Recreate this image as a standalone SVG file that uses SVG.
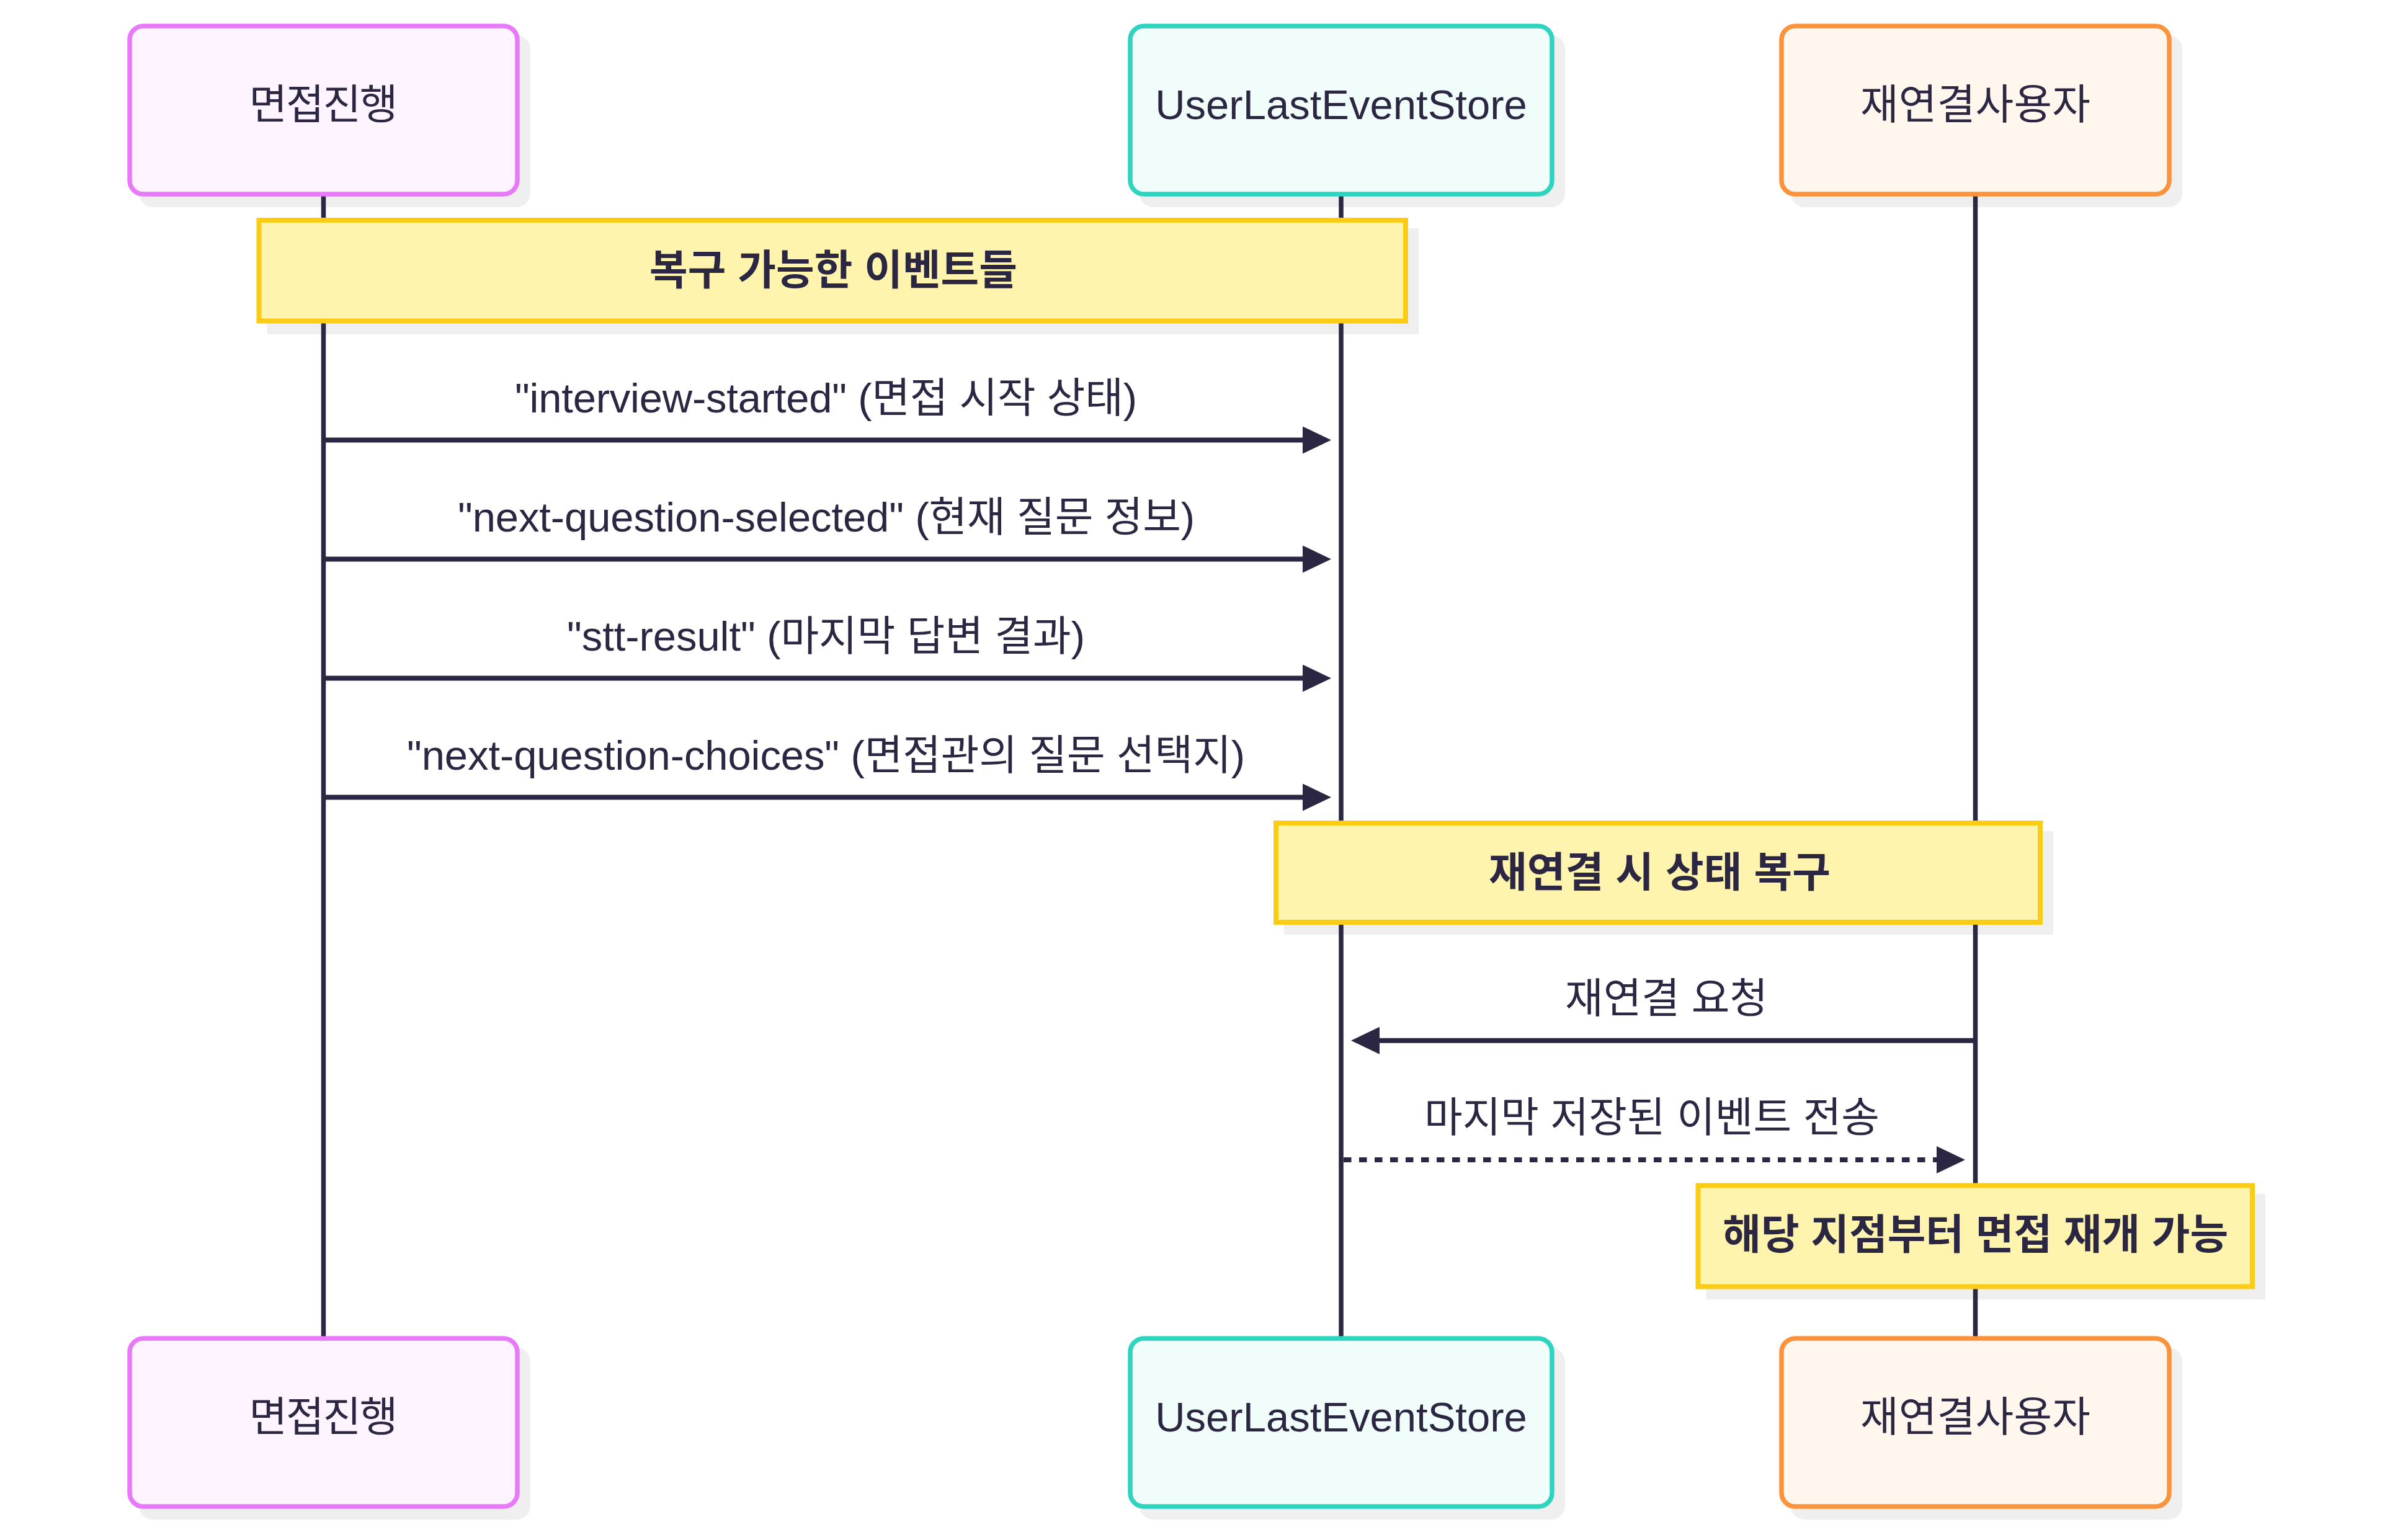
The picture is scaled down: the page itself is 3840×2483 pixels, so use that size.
<svg xmlns="http://www.w3.org/2000/svg" width="3840" height="2483" viewBox="0 0 3840 2483">
<style>
text{font-family:"Liberation Sans","Noto Sans CJK KR",sans-serif;font-size:67px;fill:#2b2742;text-anchor:middle}
.b{font-weight:bold}
.sh{fill:#efefef}
.life{stroke:#2b2742;stroke-width:7.5}
.a1{fill:#fdf4ff;stroke:#e879f9;stroke-width:7.5}
.a2{fill:#f0fdfa;stroke:#2dd4bf;stroke-width:7.5}
.a3{fill:#fff7ed;stroke:#fb923c;stroke-width:7.5}
.note{fill:#fef4ad;stroke:#facc15;stroke-width:8}
.msg{stroke:#2b2742;stroke-width:8;fill:none}
.dash{stroke-dasharray:12.5 12.5}
</style>
<defs>
<marker id="ah" markerUnits="userSpaceOnUse" markerWidth="46" markerHeight="44" refX="36" refY="22" orient="auto"><path d="M0,0 L46,22 L0,44 z" fill="#2b2742"/></marker>
</defs>
<rect width="3840" height="2483" fill="#ffffff"/>
<!-- shadows -->
<g id="shadows">
<rect class="sh" x="224" y="57" width="631" height="277" rx="22"/>
<rect class="sh" x="1837" y="57" width="686" height="277" rx="22"/>
<rect class="sh" x="2887" y="57" width="631" height="277" rx="22"/>
<rect class="sh" x="224" y="2173" width="631" height="277" rx="22"/>
<rect class="sh" x="1837" y="2173" width="686" height="277" rx="22"/>
<rect class="sh" x="2887" y="2173" width="631" height="277" rx="22"/>
<rect class="sh" x="430.5" y="368" width="1856.5" height="171"/>
<rect class="sh" x="2070" y="1340" width="1240" height="167"/>
<rect class="sh" x="2750.5" y="1924.5" width="901.5" height="171"/>
</g>
<!-- lifelines -->
<g id="lifelines">
<line class="life" x1="521.5" y1="313" x2="521.5" y2="2158"/>
<line class="life" x1="2162" y1="313" x2="2162" y2="2158"/>
<line class="life" x1="3184.5" y1="313" x2="3184.5" y2="2158"/>
</g>
<!-- actors top -->
<g id="actor-interview-top"><rect class="a1" x="209" y="42" width="625" height="271" rx="22"/><text x="521.5" y="191.5" textLength="240" lengthAdjust="spacing">면접진행</text></g>
<g id="actor-store-top"><rect class="a2" x="1822" y="42" width="680" height="271" rx="22"/><text x="2162" y="191.5">UserLastEventStore</text></g>
<g id="actor-user-top"><rect class="a3" x="2872" y="42" width="625" height="271" rx="22"/><text x="3184.5" y="191.5" textLength="371" lengthAdjust="spacing">재연결사용자</text></g>
<!-- actors bottom -->
<g id="actor-interview-bottom"><rect class="a1" x="209" y="2158" width="625" height="271" rx="22"/><text x="521.5" y="2307.5" textLength="240" lengthAdjust="spacing">면접진행</text></g>
<g id="actor-store-bottom"><rect class="a2" x="1822" y="2158" width="680" height="271" rx="22"/><text x="2162" y="2307.5">UserLastEventStore</text></g>
<g id="actor-user-bottom"><rect class="a3" x="2872" y="2158" width="625" height="271" rx="22"/><text x="3184.5" y="2307.5" textLength="371" lengthAdjust="spacing">재연결사용자</text></g>
<!-- notes -->
<g id="note-recoverable"><rect class="note" x="417.5" y="355" width="1848.5" height="162.5"/><text class="b" x="1343.5" y="459" textLength="593" lengthAdjust="spacing">복구 가능한 이벤트들</text></g>
<g id="note-restore"><rect class="note" x="2057" y="1327" width="1232" height="160"/><text class="b" x="2675.5" y="1430" textLength="551" lengthAdjust="spacing">재연결 시 상태 복구</text></g>
<g id="note-resume"><rect class="note" x="2737.5" y="1911.5" width="893.5" height="163"/><text class="b" x="3184.7" y="2014" textLength="815" lengthAdjust="spacing">해당 지점부터 면접 재개 가능</text></g>
<!-- connectors -->
<g id="connectors">
<line class="msg" x1="522" y1="709.5" x2="2136" y2="709.5" marker-end="url(#ah)"/>
<line class="msg" x1="522" y1="901.5" x2="2136" y2="901.5" marker-end="url(#ah)"/>
<line class="msg" x1="522" y1="1093.5" x2="2136" y2="1093.5" marker-end="url(#ah)"/>
<line class="msg" x1="522" y1="1285.5" x2="2136" y2="1285.5" marker-end="url(#ah)"/>
<line class="msg" x1="3184" y1="1677.7" x2="2188" y2="1677.7" marker-end="url(#ah)"/>
<line class="msg dash" x1="2166" y1="1870" x2="3158" y2="1870" marker-end="url(#ah)"/>
<text x="1331.5" y="664.5" textLength="1003" lengthAdjust="spacing">"interview-started" (면접 시작 상태)</text>
<text x="1332" y="856.5" textLength="1188" lengthAdjust="spacing">"next-question-selected" (현재 질문 정보)</text>
<text x="1331.5" y="1048.5" textLength="835" lengthAdjust="spacing">"stt-result" (마지막 답변 결과)</text>
<text x="1331.5" y="1240.5" textLength="1351" lengthAdjust="spacing">"next-question-choices" (면접관의 질문 선택지)</text>
<text x="2686.5" y="1632.7" textLength="327" lengthAdjust="spacing">재연결 요청</text>
<text x="2663" y="1825" textLength="734" lengthAdjust="spacing">마지막 저장된 이벤트 전송</text>
</g>
</svg>
